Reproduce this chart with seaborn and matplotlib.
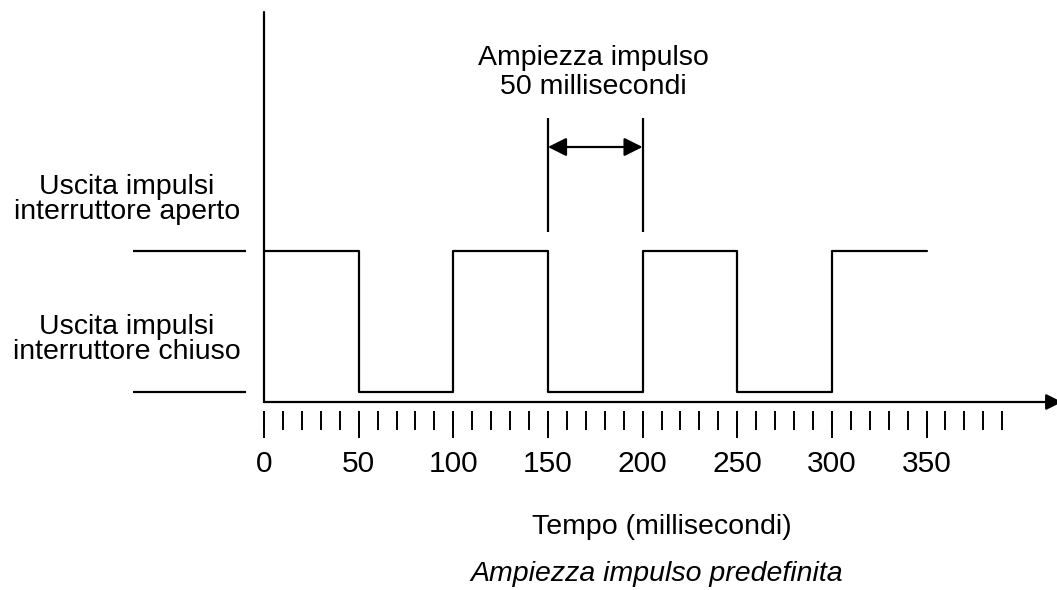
import matplotlib
matplotlib.use('Agg')
import matplotlib.pyplot as plt
import seaborn as sns
import pandas as pd

# pulse output (time in ms, 1 = switch open, 0 = switch closed)
time_ms = [0, 50, 100, 150, 200, 250, 300, 350]
level = [1, 0, 1, 0, 1, 0, 1, 1]

tick_ms = list(range(0, 400, 10))
label_ms = [0, 50, 100, 150, 200, 250, 300, 350]
tick_labels = ['0', '50', '100', '150', '200', '250', '300', '350']
pulse_width = [150, 200]

sns.set_style('white')
plt.rcParams['font.family'] = ['Liberation Sans', 'DejaVu Sans']
plt.rcParams['text.color'] = 'black'

fig = plt.figure(figsize=(10.57, 5.90), dpi=100)
ax = fig.add_axes([0, 0, 1, 1])

# pixel -> data helpers (layout only)
def xd(px):
    return (px - 264) / 1.893

def yd(py):
    return (392 - py) / 141.0

ax.set_xlim(xd(0), xd(1057))
ax.set_ylim(yd(590), yd(0))
ax.axis('off')

df = pd.DataFrame({'t': time_ms, 'v': level})
sns.lineplot(data=df, x='t', y='v', drawstyle='steps-post', color='black',
             lw=1.6, ax=ax, legend=False)

# axes
ax.plot([0, 0], [yd(402), yd(12)], color='black', lw=1.6)
ax.annotate('', xy=(xd(1062), yd(402)), xytext=(0, yd(402)),
            arrowprops=dict(arrowstyle='-|>', color='black', lw=1.6,
                            mutation_scale=24, shrinkA=0, shrinkB=0),
            annotation_clip=False)

# level reference lines on the left
ax.hlines([1, 0], xd(133), xd(246), color='black', lw=1.6)

# ticks
ax.vlines(tick_ms, yd(430), yd(411), color='black', lw=1.4)
ax.vlines(label_ms, yd(438), yd(411), color='black', lw=1.4)
for t, lab in zip(label_ms, tick_labels):
    ax.text(t, yd(472), lab, ha='center', va='baseline', fontsize=21.5)

# pulse width marker
ax.vlines(pulse_width, yd(232), yd(118), color='black', lw=1.6)
ax.annotate('', xy=(pulse_width[1], yd(147)), xytext=(pulse_width[0], yd(147)),
            arrowprops=dict(arrowstyle='<|-|>', color='black', lw=1.6,
                            mutation_scale=28, shrinkA=0, shrinkB=0))
ax.text(xd(593), yd(65), 'Ampiezza impulso', ha='center', va='baseline', fontsize=20.5)
ax.text(xd(593), yd(94), '50 millisecondi', ha='center', va='baseline', fontsize=20.5)

# left labels
ax.text(xd(127), yd(194), 'Uscita impulsi', ha='center', va='baseline', fontsize=20.5)
ax.text(xd(127), yd(219), 'interruttore aperto', ha='center', va='baseline', fontsize=20.5)
ax.text(xd(127), yd(334), 'Uscita impulsi', ha='center', va='baseline', fontsize=20.5)
ax.text(xd(127), yd(359), 'interruttore chiuso', ha='center', va='baseline', fontsize=20.5)

# bottom labels
ax.text(xd(662), yd(534), 'Tempo (millisecondi)', ha='center', va='baseline', fontsize=20.5)
ax.text(xd(657), yd(581), 'Ampiezza impulso predefinita', ha='center', va='baseline',
        fontsize=20.5, style='italic')

fig.savefig('out.png', dpi=100)
